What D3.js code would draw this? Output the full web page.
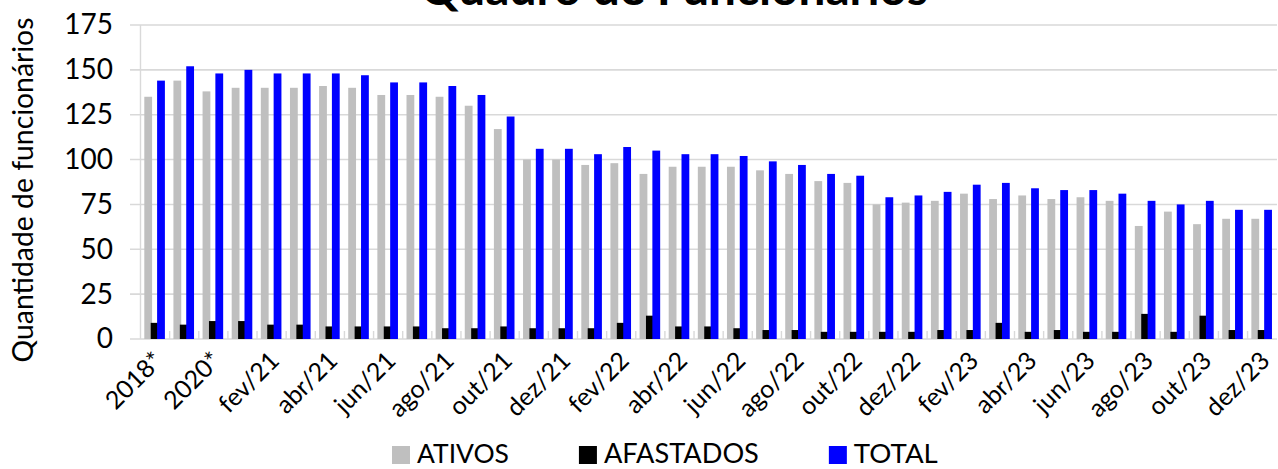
<!DOCTYPE html>
<html>
<head>
	<title>index</title>
	<meta charset="utf-8">
	<script src="https://d3js.org/d3.v7.min.js" charset="utf-8"></script>
	<style>
		body {
			margin: 0;
			background: #fff;
		}
		svg {
			display: block;
			font-family: Lato, "Open Sans", sans-serif;
		}
	</style>
</head>
<body>
<script>

	var meses = ["2018*", "2019*", "2020*",
		"jan/21", "fev/21", "mar/21", "abr/21", "mai/21", "jun/21", "jul/21", "ago/21", "set/21", "out/21", "nov/21", "dez/21",
		"jan/22", "fev/22", "mar/22", "abr/22", "mai/22", "jun/22", "jul/22", "ago/22", "set/22", "out/22", "nov/22", "dez/22",
		"jan/23", "fev/23", "mar/23", "abr/23", "mai/23", "jun/23", "jul/23", "ago/23", "set/23", "out/23", "nov/23", "dez/23"];

	var ativos = [135, 144, 138, 140, 140, 140, 141, 140, 136, 136, 135, 130, 117, 100, 100,
		97, 98, 92, 96, 96, 96, 94, 92, 88, 87, 75, 76,
		77, 81, 78, 80, 78, 79, 77, 63, 71, 64, 67, 67];

	var afastados = [9, 8, 10, 10, 8, 8, 7, 7, 7, 7, 6, 6, 7, 6, 6,
		6, 9, 13, 7, 7, 6, 5, 5, 4, 4, 4, 4,
		5, 5, 9, 4, 5, 4, 4, 14, 4, 13, 5, 5];

	var total = [144, 152, 148, 150, 148, 148, 148, 147, 143, 143, 141, 136, 124, 106, 106,
		103, 107, 105, 103, 103, 102, 99, 97, 92, 91, 79, 80,
		82, 86, 87, 84, 83, 83, 81, 77, 75, 77, 72, 72];

	var series = ["ATIVOS", "AFASTADOS", "TOTAL"];
	var cores = ["#bfbfbf", "#000000", "#0000ff"];
	var yTicks = [0, 25, 50, 75, 100, 125, 150, 175];

	var W = 1278, H = 469;
	var svg = d3.select("body").append("svg").attr("width", W).attr("height", H);

	var x = d3.scaleBand().domain(meses).range([140.5, 1276.7]);
	var x1 = d3.scaleBand().domain(series).range([3.8, 23]);
	var y = d3.scaleLinear().domain([0, 175]).range([339, 25]);
	var cor = d3.scaleOrdinal().domain(series).range(cores);

	// grid
	svg.append("g").selectAll("line").data(yTicks).enter().append("line")
		.attr("x1", 130).attr("x2", 1277)
		.attr("y1", function(d) { return y(d); })
		.attr("y2", function(d) { return y(d); })
		.attr("stroke", "#d9d9d9").attr("stroke-width", 1.6);

	svg.append("line")
		.attr("x1", x.range()[0]).attr("x2", x.range()[0])
		.attr("y1", y(175)).attr("y2", y(0))
		.attr("stroke", "#d9d9d9").attr("stroke-width", 1.4);

	// small ticks between groups
	svg.append("g").selectAll("line").data(meses.slice(1)).enter().append("line")
		.attr("x1", function(d) { return x(d); })
		.attr("x2", function(d) { return x(d); })
		.attr("y1", y(0) - 8).attr("y2", y(0))
		.attr("stroke", "#d9d9d9").attr("stroke-width", 1.4);

	// bars
	var valores = { "ATIVOS": ativos, "AFASTADOS": afastados, "TOTAL": total };
	series.forEach(function(s) {
		svg.append("g").selectAll("rect").data(valores[s]).enter().append("rect")
			.attr("x", function(d, i) { return x(meses[i]) + x1(s); })
			.attr("y", function(d) { return y(d); })
			.attr("width", x1.bandwidth() + 1.4)
			.attr("height", function(d) { return y(0) - y(d); })
			.attr("fill", cor(s));
	});

	// y axis
	var yAxis = svg.append("g")
		.attr("transform", "translate(113,0)")
		.call(d3.axisLeft(y).tickValues(yTicks).tickSize(0).tickPadding(0));
	yAxis.select(".domain").remove();
	yAxis.selectAll("text")
		.attr("font-family", "Lato, sans-serif")
		.attr("font-size", 28)
		.attr("fill", "#000");

	// x labels, every other
	svg.append("g").selectAll("text")
		.data(meses.filter(function(d, i) { return i % 2 == 0; }))
		.enter().append("text")
		.attr("transform", function(d) {
			return "translate(" + (x(d) + x.bandwidth() / 2 + 3) + ",356) rotate(-45)";
		})
		.attr("text-anchor", "end")
		.attr("dy", "0.35em")
		.attr("font-size", 25)
		.attr("fill", "#000")
		.text(function(d) { return d; });

	function ajusta(sel, alvo) {
		var w = sel.node().getComputedTextLength();
		var fs = parseFloat(sel.attr("font-size"));
		sel.attr("font-size", fs * alvo / w);
	}

	// title (cut at the top)
	var titulo = svg.append("text")
		.attr("x", 674).attr("y", 5)
		.attr("text-anchor", "middle")
		.attr("font-weight", "bold")
		.attr("font-size", 40)
		.attr("fill", "#000")
		.text("Quadro de Funcionários");
	ajusta(titulo, 508);

	// y label
	var ylab = svg.append("text")
		.attr("transform", "translate(33,190) rotate(-90)")
		.attr("text-anchor", "middle")
		.attr("font-size", 28)
		.attr("fill", "#000")
		.text("Quantidade de funcionários");
	ajusta(ylab, 345);

	// legend
	var lx = 392;
	series.forEach(function(s) {
		svg.append("rect")
			.attr("x", lx).attr("y", 446).attr("width", 18).attr("height", 18)
			.attr("fill", cor(s));
		var t = svg.append("text")
			.attr("x", lx + 25).attr("y", 463)
			.attr("font-size", 27)
			.attr("fill", "#000")
			.text(s);
		ajusta(t, s == "ATIVOS" ? 92 : s == "AFASTADOS" ? 155 : 84);
		lx += 25 + t.node().getComputedTextLength() + 70;
	});

</script>
</body>
</html>
